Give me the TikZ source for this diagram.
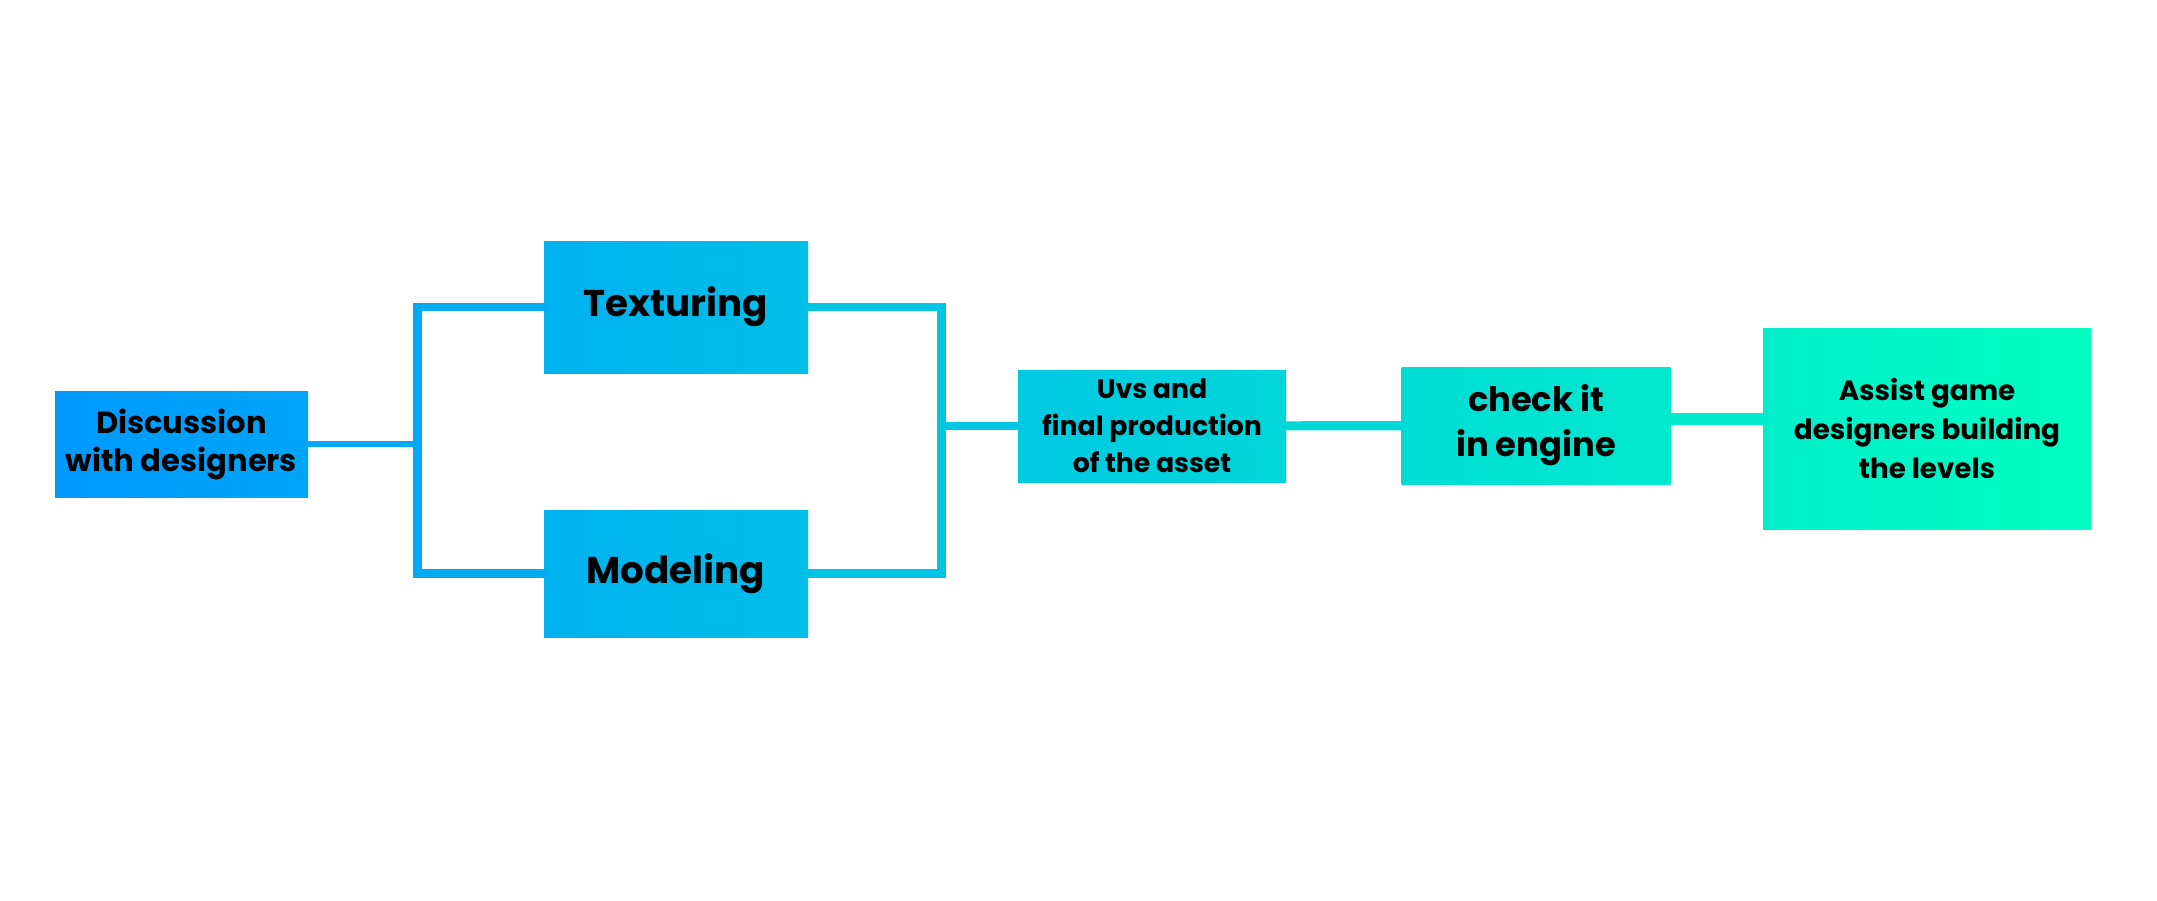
\documentclass[tikz,border=0pt]{standalone}
\usepackage{fontspec}
\setsansfont{Poppins}
\begin{document}
\begin{tikzpicture}[
    stepbox/.style={rectangle, inner sep=0pt, align=center, text=black},
    link/.style={line width=2.4pt, line cap=rect}
]
    % Define colors
    \definecolor{flowblue}{RGB}{0,153,255}
    \definecolor{flowgreen}{RGB}{0,255,192}

    % Page frame
    \useasboundingbox (0,0) rectangle (21.57,-9);

    % First step
    \node[stepbox, minimum width=2.53cm, minimum height=1.06cm,
        left color=flowblue, right color=flowgreen!12!flowblue,
        font=\sffamily\bfseries\fontsize{8.7}{10.8}\selectfont]
        (disc) at (1.815,-4.445) {Discussion\\with designers};

    % Parallel steps
    \node[stepbox, minimum width=2.64cm, minimum height=1.32cm,
        left color=flowgreen!24!flowblue, right color=flowgreen!37!flowblue,
        font=\sffamily\bfseries\fontsize{10.6}{13}\selectfont]
        (tex) at (6.76,-3.07) {Texturing};
    \node[stepbox, minimum width=2.64cm, minimum height=1.27cm,
        left color=flowgreen!24!flowblue, right color=flowgreen!37!flowblue,
        font=\sffamily\bfseries\fontsize{10.6}{13}\selectfont]
        (model) at (6.76,-5.735) {Modeling};

    % Later steps
    \node[stepbox, minimum width=2.68cm, minimum height=1.12cm,
        left color=flowgreen!47!flowblue, right color=flowgreen!60!flowblue,
        font=\sffamily\bfseries\fontsize{7.6}{10.5}\selectfont]
        (uvs) at (11.52,-4.26) {Uvs and\\final production\\of the asset};
    \node[stepbox, minimum width=2.69cm, minimum height=1.17cm,
        left color=flowgreen!66!flowblue, right color=flowgreen!79!flowblue,
        font=\sffamily\bfseries\fontsize{9.6}{12.8}\selectfont]
        (check) at (15.36,-4.255) {check it\\in engine};
    \node[stepbox, minimum width=3.28cm, minimum height=2.01cm,
        left color=flowgreen!84!flowblue, right color=flowgreen,
        font=\sffamily\bfseries\fontsize{7.9}{11.1}\selectfont]
        (assist) at (19.27,-4.285) {Assist game\\designers building\\the levels};

    % Junction points
    \coordinate (lj) at (4.175,-4.44);
    \coordinate (rj) at (9.415,-4.26);

    % Connectors
    \draw[link, line width=1.7pt, flowgreen!15!flowblue] (disc.east |- lj) -- (lj);
    \draw[link, flowgreen!18!flowblue] (tex.west) -| (lj) |- (model.west);
    \draw[link, flowgreen!42!flowblue] (tex.east) -| (rj) |- (model.east);
    \draw[link, flowgreen!45!flowblue] (rj) -- (uvs.west);
    \draw[link, line width=2.6pt, flowgreen!63!flowblue] (uvs) -- (check);
    \draw[link, line width=3.4pt, flowgreen!81!flowblue] (check.east |- 0,-4.19) -- (assist.west |- 0,-4.19);

\end{tikzpicture}
\end{document}
